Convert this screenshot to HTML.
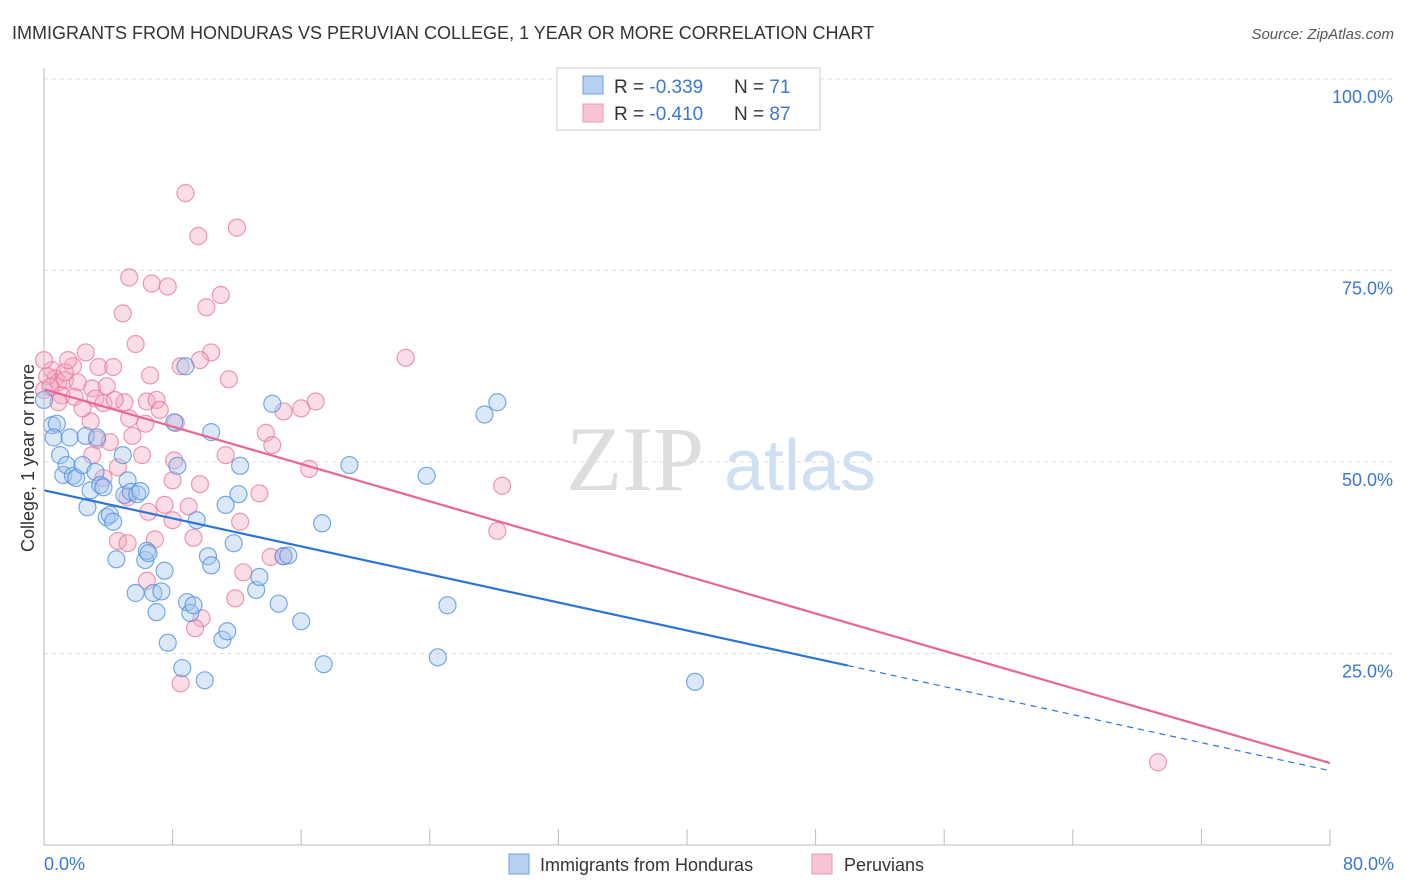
<!DOCTYPE html>
<html><head><meta charset="utf-8"><style>
body{margin:0;background:#fff;font-family:"Liberation Sans",sans-serif;}
svg{display:block}
</style></head><body>
<svg id="chart" width="1406" height="892" xmlns="http://www.w3.org/2000/svg">
<text x="12" y="39" font-size="18" fill="#333">IMMIGRANTS FROM HONDURAS VS PERUVIAN COLLEGE, 1 YEAR OR MORE CORRELATION CHART</text>
<text x="1394" y="39" font-size="15" fill="#555" font-style="italic" text-anchor="end">Source: ZipAtlas.com</text>
<text x="0" y="0" transform="translate(34,458) rotate(-90)" font-size="18" fill="#333" text-anchor="middle">College, 1 year or more</text>
<g><text x="635" y="490" font-size="92" fill="#ddd" font-family="Liberation Serif,serif" text-anchor="middle">ZIP</text><text x="800" y="490" font-size="72" fill="#cfe0f3" text-anchor="middle">atlas</text></g>
<g id="grid"></g><g id="pts"></g><g id="trends"></g>
<line x1="44" y1="68" x2="44" y2="845" stroke="#bbb"/>
<line x1="44" y1="845" x2="1330" y2="845" stroke="#bbb"/>
<text x="44" y="870" font-size="18" fill="#3b78d0">0.0%</text>
<text x="1394" y="870" font-size="18" fill="#3b78d0" text-anchor="end">80.0%</text>
<g>
<rect x="557" y="68" width="263" height="62" fill="#fff" stroke="#ccc"/>
<rect x="583" y="76" width="20" height="18" fill="#b6d0f2" stroke="#6a9fe0"/>
<rect x="583" y="104" width="20" height="18" fill="#f8c3d3" stroke="#e99ab3"/>
<text x="614" y="93" font-size="19" fill="#333">R = <tspan fill="#3b78d0">-0.339</tspan><tspan x="734">N = </tspan><tspan fill="#3b78d0">71</tspan></text>
<text x="614" y="120" font-size="19" fill="#333">R = <tspan fill="#3b78d0">-0.410</tspan><tspan x="734">N = </tspan><tspan fill="#3b78d0">87</tspan></text>
</g>
<g>
<rect x="509" y="854" width="20" height="20" fill="#b6d0f2" stroke="#6a9fe0"/>
<text x="540" y="871" font-size="18" fill="#333">Immigrants from Honduras</text>
<rect x="812" y="854" width="20" height="20" fill="#f8c3d3" stroke="#e99ab3"/>
<text x="844" y="871" font-size="18" fill="#333">Peruvians</text>
</g>
</svg>
<script>
const yTicks=[25,50,75,100];
const xTickCount=10;
const blueX=[0.5,0.8,0.6,1.0,1.2,1.4,1.8,1.6,2.0,2.4,2.6,2.7,2.9,3.2,3.3,3.5,3.7,3.9,4.1,4.3,4.5,4.9,5.0,5.2,5.4,5.7,5.8,6.0,6.3,6.4,6.5,6.8,7.0,7.3,7.5,7.7,8.1,8.3,8.6,8.8,8.9,9.1,9.3,9.5,10.0,10.2,10.4,11.1,11.3,11.4,11.8,12.1,12.2,10.4,13.2,13.4,14.2,14.6,14.9,15.2,16.0,17.3,17.4,19.0,23.8,24.5,25.1,27.4,28.2,40.5,0.0];
const blueY=[54.8,55.0,53.2,50.9,48.3,49.6,48.2,53.2,47.9,49.6,53.4,44.1,46.3,48.7,53.2,47.0,46.7,42.8,43.1,42.2,37.3,50.9,45.7,47.6,46.1,32.9,45.8,46.2,37.2,38.4,38.1,32.9,30.4,33.1,35.8,26.4,55.2,49.5,23.1,62.5,31.7,30.3,31.3,42.4,21.5,37.7,36.5,26.8,44.4,27.9,39.4,45.8,49.5,53.9,33.3,35.0,57.6,31.5,37.7,37.8,29.2,42.0,23.6,49.6,48.2,24.5,31.3,56.2,57.8,21.3,58.1];
const pinkX=[8.8,12.0,9.6,5.3,6.7,7.7,11.0,10.1,4.9,5.7,10.4,22.5,2.6,1.8,3.4,4.3,8.5,11.5,0.5,0.7,0.9,0.2,0.0,1.3,2.1,3.0,3.9,1.1,1.9,3.2,3.7,5.0,6.4,7.0,7.2,8.2,14.9,16.0,16.9,5.3,2.9,5.5,13.8,14.2,3.3,11.3,6.1,16.5,28.5,9.7,13.4,8.0,4.6,3.7,5.2,7.5,9.0,6.5,8.0,12.2,9.3,4.6,6.9,5.2,28.2,14.1,14.9,12.4,6.4,11.9,9.8,9.4,8.5,69.3,1.3,0.4,0.9,2.4,4.4,0.0,1.5,4.1,6.3,8.1,3.0,9.7,6.6];
const pinkY=[85.1,80.6,79.5,74.1,73.3,72.9,71.8,70.2,69.4,65.4,64.3,63.6,64.3,62.5,62.4,62.4,62.5,60.8,62.0,60.9,60.4,61.2,59.4,60.7,60.4,59.6,59.9,58.7,58.5,58.3,57.7,57.8,57.9,58.1,56.8,55.1,56.6,57.0,57.9,55.7,55.3,53.4,53.8,52.2,52.9,50.9,50.9,49.1,46.9,47.1,45.9,47.6,49.3,47.9,45.4,44.4,44.2,43.5,42.4,42.2,40.1,39.7,39.9,39.4,41.0,37.6,37.7,35.6,34.5,32.2,29.6,28.3,21.1,10.8,61.7,59.8,57.8,57.0,58.1,63.3,63.3,52.6,55.0,50.2,50.9,63.3,61.3];
const blueTrend=[46.3,9.7]; const blueSolidEnd=50;
const pinkTrend=[59.5,10.7];
const NS="http://www.w3.org/2000/svg";
const X0=44,X1=1330,Y0=845,Y100=79;
const sx=v=>X0+(v/80)*(X1-X0);
const sy=v=>Y0-(v/100)*(Y0-Y100);
function mk(t,a,p){const e=document.createElementNS(NS,t);for(const k in a)e.setAttribute(k,a[k]);p.appendChild(e);return e;}
const grid=document.getElementById('grid');
yTicks.forEach(t=>{
 const l=mk('line',{x1:X0,x2:1394,y1:sy(t),y2:sy(t),stroke:'#ddd','stroke-dasharray':'4,4'},grid);
 
 
 const tx=mk('text',{x:1393,y:sy(t)+24,'font-size':18,fill:'#3b78d0','text-anchor':'end'},grid);
 tx.textContent=t.toFixed(1)+'%';
 
 
});
for(let i=1;i<=xTickCount;i++){
 const l=mk('line',{x1:sx(i*8),x2:sx(i*8),y1:Y0,y2:Y0-16,stroke:'#bbb'},grid);
 
 
}
const pts=document.getElementById('pts');
function series(xs,ys,fill,stroke,name){
 xs.forEach((x,i)=>{
  const c=mk('circle',{cx:sx(x),cy:sy(ys[i]),r:8.5,fill:fill,'fill-opacity':0.4,stroke:stroke,'stroke-opacity':0.75,'stroke-width':1.2},pts);
  
  
 });
}
series(pinkX,pinkY,'#f4a9c0','#e7789c','peruvian-point');
series(blueX,blueY,'#a6c6ee','#4d8ee0','honduras-point');
const tr=document.getElementById('trends');
const bAt=x=>blueTrend[0]+(blueTrend[1]-blueTrend[0])*x/80;
let l1=mk('line',{x1:sx(0),y1:sy(bAt(0)),x2:sx(blueSolidEnd),y2:sy(bAt(blueSolidEnd)),stroke:'#2b74d8','stroke-width':2.2},tr);


let l2=mk('line',{x1:sx(blueSolidEnd),y1:sy(bAt(blueSolidEnd)),x2:sx(80),y2:sy(bAt(80)),stroke:'#2b74d8','stroke-width':1.2,'stroke-dasharray':'6,5'},tr);


let l3=mk('line',{x1:sx(0),y1:sy(pinkTrend[0]),x2:sx(80),y2:sy(pinkTrend[1]),stroke:'#e8668f','stroke-width':2.2},tr);


</script>
</body></html>
